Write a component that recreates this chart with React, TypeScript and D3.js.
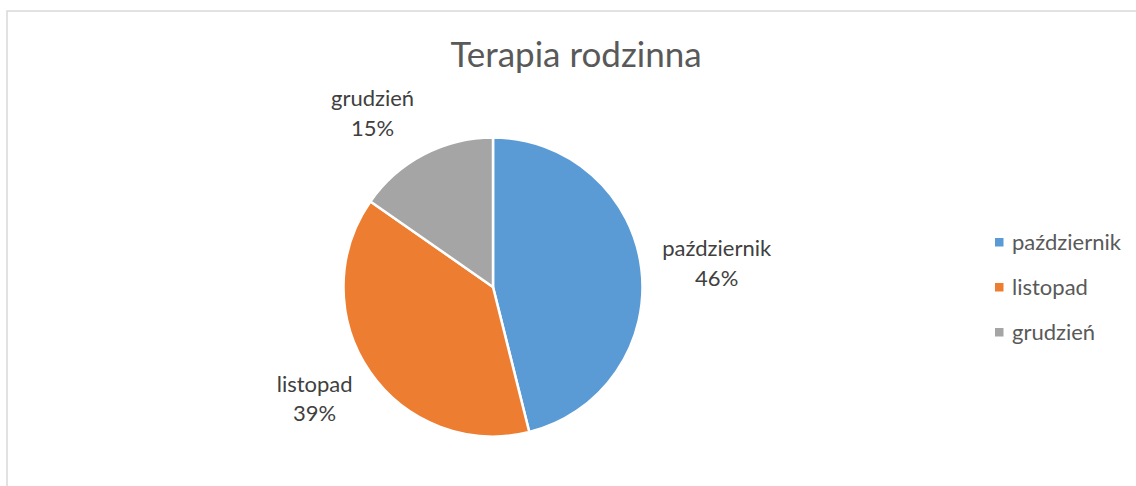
import React, { useEffect, useRef } from "react";
import * as d3 from "d3";

const categories = ["październik", "listopad", "grudzień"];
const values = [46.1, 38.6, 15.3];
const percentLabels = ["46%", "39%", "15%"];
const colors = ["#5B9BD5", "#ED7D31", "#A5A5A5"];
const title = "Terapia rodzinna";

const W = 1136;
const H = 486;
const FONT = "Lato, 'Noto Sans', sans-serif";

export default function App() {
  const ref = useRef<SVGSVGElement | null>(null);

  useEffect(() => {
    const svg = d3.select(ref.current);
    svg.selectAll("*").remove();

    // chart frame
    svg
      .append("rect")
      .attr("x", 7)
      .attr("y", 11)
      .attr("width", W + 10)
      .attr("height", H + 10)
      .attr("fill", "#fff")
      .attr("stroke", "#d9d9d9")
      .attr("stroke-width", 1.5);

    // title
    svg
      .append("text")
      .attr("x", 576)
      .attr("y", 67)
      .attr("text-anchor", "middle")
      .attr("font-family", FONT)
      .attr("font-size", 35)
      .attr("fill", "#595959")
      .text(title);

    const cx = 493;
    const cy = 287;
    const r = 149.5;

    const data = categories.map((c, i) => ({ c, v: values[i], p: percentLabels[i], color: colors[i] }));
    const pie = d3
      .pie<any>()
      .sort(null)
      .value((d: any) => d.v)
      .startAngle(0)
      .endAngle(2 * Math.PI);
    const arcs = pie(data);
    const arc = d3.arc<any>().innerRadius(0).outerRadius(r);

    const g = svg.append("g").attr("transform", `translate(${cx},${cy})`);
    g.selectAll("path")
      .data(arcs)
      .enter()
      .append("path")
      .attr("d", arc as any)
      .attr("fill", (d: any) => d.data.color)
      .attr("stroke", "#fff")
      .attr("stroke-width", 2.5)
      .attr("stroke-linejoin", "round");

    // data labels
    const labelSize = 22;
    const lineH = 29.5;
    const gap = 21;
    arcs.forEach((a: any) => {
      const mid = (a.startAngle + a.endAngle) / 2;
      const s = Math.sin(mid);
      const c = Math.cos(mid);
      const t = svg
        .append("text")
        .attr("text-anchor", "middle")
        .attr("font-family", FONT)
        .attr("font-size", labelSize)
        .attr("fill", "#404040");
      const t1 = t.append("tspan").text(a.data.c);
      const t2 = t.append("tspan").text(a.data.p);
      const w = Math.max(
        (t1.node() as any).getComputedTextLength(),
        (t2.node() as any).getComputedTextLength()
      );
      const h = lineH + labelSize;
      const ex = cx + (r + gap) * s + Math.sign(s) * (w / 2);
      const ey = cy - (r + gap) * c - c * (h / 2);
      t1.attr("x", ex).attr("y", ey - lineH / 2 + 8);
      t2.attr("x", ex).attr("y", ey + lineH / 2 + 8);
    });

    // legend
    const lx = 995;
    const ly = 242;
    const step = 45;
    const lg = svg.append("g");
    data.forEach((d, i) => {
      lg.append("rect")
        .attr("x", lx)
        .attr("y", ly + i * step - 4)
        .attr("width", 8.5)
        .attr("height", 8.5)
        .attr("fill", d.color);
      lg.append("text")
        .attr("x", lx + 17)
        .attr("y", ly + i * step + 7.5)
        .attr("font-family", FONT)
        .attr("font-size", labelSize)
        .attr("fill", "#595959")
        .text(d.c);
    });
  }, []);

  return (
    <div style={{ position: "absolute", left: 0, top: 0, width: W, height: H, overflow: "hidden" }}>
      <svg ref={ref} width={W} height={H} style={{ display: "block", background: "#fff" }} />
    </div>
  );
}
